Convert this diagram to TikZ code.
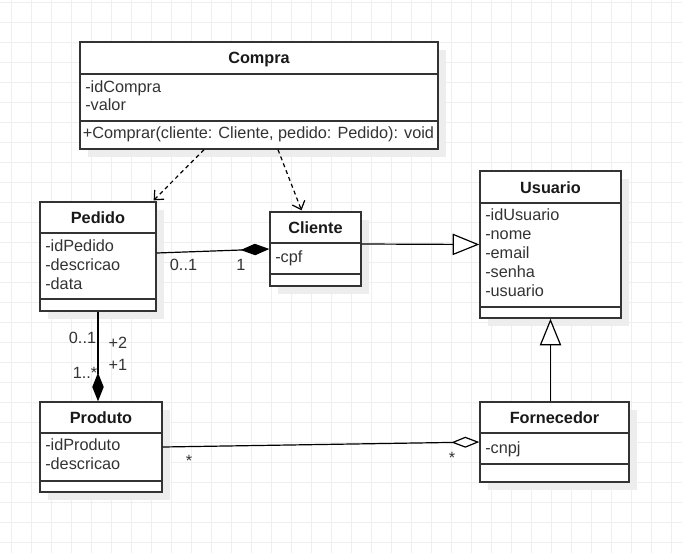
\documentclass[tikz,border=0pt]{standalone}
\usepackage{fontspec}
\setmainfont{Liberation Sans}
\usetikzlibrary{arrows.meta,fit}
\definecolor{gridc}{HTML}{EFEFEF}
\definecolor{shadowc}{HTML}{EDEDED}
\definecolor{linec}{HTML}{333333}
\definecolor{txtc}{HTML}{333333}
\tikzset{
  cls/.style={draw=linec, line width=1pt, fill=white, inner sep=0pt},
  divline/.style={draw=linec, line width=1pt},
  ttl/.style={font=\fontsize{12.2}{14}\selectfont\bfseries, text=black!90, inner sep=0pt, anchor=base},
  attr/.style={font=\fontsize{12.2}{14}\selectfont, text=txtc, inner sep=0pt, anchor=base west},
  mult/.style={font=\fontsize{12.2}{14}\selectfont, text=txtc, inner sep=0pt},
  conn/.style={draw=black, line width=0.9pt},
  depline/.style={conn, dash pattern=on 3pt off 2.5pt, -{Straight Barb[length=5.5pt,width=10pt]}},
  compos/.style={conn, -{Diamond[length=21.5pt,width=8.6pt]}},
  aggreg/.style={conn, -{Diamond[fill=white,length=21pt,width=8.25pt]}},
  inherit/.style={conn, -{Triangle[fill=white,length=20pt,width=16pt]}},
}
\newcommand\classbox[7]{%
  \fill[shadowc] (#2+8,#3+8) rectangle (#4+8,#5+8);
  \node[cls, fit={(#2,#3) (#4,#5)}] (#1) {};
  \draw[divline] (#2,#6) -- (#4,#6);
  \draw[divline] (#2,#7) -- (#4,#7);
}
\begin{document}
\begin{tikzpicture}[x=0.75pt,y=-0.75pt]
\useasboundingbox (0,0) rectangle (682,553);
\fill[white] (0,0) rectangle (682,553);
\foreach \gx in {11,31,...,671} {\draw[gridc, line width=0.75pt] (\gx,0) -- (\gx,553);}
\foreach \gy in {2,22,...,542} {\draw[gridc, line width=0.75pt] (0,\gy) -- (682,\gy);}

% classes
\classbox{compra}{80}{42}{438}{149}{74}{121}
\node[ttl] (compra-t) at (259,63.5) {Compra};
\node[attr] (compra-a1) at (85,92) {-idCompra};
\node[attr] (compra-a2) at (85,110.5) {-valor};
\node[attr] (compra-m1) at (82.5,138.5) {+Comprar(cliente: Cliente, pedido: Pedido): void};

\classbox{pedido}{40}{202}{156}{311}{233}{299}
\node[ttl] (pedido-t) at (98,223) {Pedido};
\node[attr] (pedido-a1) at (45,251) {-idPedido};
\node[attr] (pedido-a2) at (45,270) {-descricao};
\node[attr] (pedido-a3) at (45,289) {-data};

\classbox{cliente}{270}{212}{361}{286}{243}{274}
\node[ttl] (cliente-t) at (315.5,233) {Cliente};
\node[attr] (cliente-a1) at (275,262) {-cpf};

\classbox{usuario}{480}{171}{621}{318}{203}{307}
\node[ttl] (usuario-t) at (550.5,193) {Usuario};
\node[attr] (usuario-a1) at (485,220) {-idUsuario};
\node[attr] (usuario-a2) at (485,239) {-nome};
\node[attr] (usuario-a3) at (485,258) {-email};
\node[attr] (usuario-a4) at (485,277) {-senha};
\node[attr] (usuario-a5) at (485,296) {-usuario};

\classbox{produto}{40}{402}{162}{492}{433}{481}
\node[ttl] (produto-t) at (101,423) {Produto};
\node[attr] (produto-a1) at (45,450) {-idProduto};
\node[attr] (produto-a2) at (45,469) {-descricao};

\classbox{fornecedor}{480}{402}{629}{482}{433}{464}
\node[ttl] (fornecedor-t) at (554.5,423) {Fornecedor};
\node[attr] (fornecedor-a1) at (485,453) {-cnpj};

% connectors
\draw[depline] ([shift={(-55,0)}]compra.south) -- ([shift={(-3,-1)}]pedido.north east);
\draw[depline] ([shift={(19,0)}]compra.south) -- ([shift={(-14,-1)}]cliente.north);
\draw[compos] ([shift={(0,-3.5)}]pedido.east) -- (cliente.west);
\draw[inherit] ([shift={(0,-5)}]cliente.east) -- (usuario.west);
\draw[inherit] (fornecedor.north -| usuario.south) -- (usuario.south);
\draw[compos] (pedido.south) -- (pedido.south |- produto.north);
\draw[aggreg] (produto.east) -- (fornecedor.west);

% multiplicities
\node[mult] (m-pc1) at (183.5,264.5) {0..1};
\node[mult] (m-pc2) at (241,264.5) {1};
\node[mult] (m-pp1) at (82.5,337.5) {0..1};
\node[mult] (m-pp2) at (118,342.5) {+2};
\node[mult] (m-pp3) at (85,373) {1..*};
\node[mult] (m-pp4) at (118,365) {+1};
\node[mult, anchor=base] (m-pf1) at (189,466) {*};
\node[mult, anchor=base] (m-pf2) at (452,463.5) {*};
\end{tikzpicture}
\end{document}
